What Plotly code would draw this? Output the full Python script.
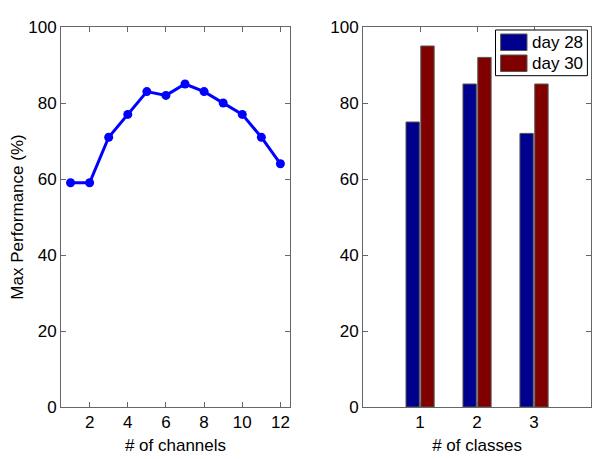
import plotly.graph_objects as go

# left panel: best performance vs number of channels
channels = [1, 2, 3, 4, 5, 6, 7, 8, 9, 10, 11, 12]
max_perf = [59, 59, 71, 77, 83, 82, 85, 83, 80, 77, 71, 64]

# right panel: performance per number of classes
classes = [1, 2, 3]
day28 = [75, 85, 72]
day30 = [95, 92, 85]
series_names = ["day 28", "day 30"]
series_colors = ["#00008f", "#800000"]

font = dict(family="Liberation Sans, Arial, sans-serif", size=17, color="black")
axcol = "#666666"

fig = go.Figure()

fig.add_trace(go.Scatter(
    x=channels, y=max_perf, mode="lines+markers",
    line=dict(color="#0000ff", width=3),
    marker=dict(color="#0000ff", size=9, symbol="circle"),
    showlegend=False, xaxis="x", yaxis="y"))

for vals, name, col in zip([day28, day30], series_names, series_colors):
    fig.add_trace(go.Bar(
        x=classes, y=vals, name=name,
        marker=dict(color=col, line=dict(color="#555555", width=1)),
        showlegend=False, xaxis="x2", yaxis="y2"))

common = dict(showgrid=False, zeroline=False, showline=True, linecolor=axcol,
              linewidth=1, mirror="ticks", ticks="inside", ticklen=5,
              tickcolor=axcol, tickfont=font, automargin=False)

# page body adds 8px around the plot, so the figure is 8px smaller each way
fig.update_layout(
    width=592, height=451,
    margin=dict(l=53, r=9, t=19, b=52, autoexpand=False),
    plot_bgcolor="white", paper_bgcolor="white",
    font=font,
    barmode="group", bargap=0.48, bargroupgap=0.1,
    xaxis=dict(domain=[0, 0.432], range=[0.5, 12.5],
               tickvals=[2, 4, 6, 8, 10, 12],
               title=dict(text="# of channels", font=font, standoff=7), **common),
    yaxis=dict(domain=[0, 1], range=[0, 100], tickvals=[0, 20, 40, 60, 80, 100],
               title=dict(text="Max Performance (%)", font=font, standoff=1), **common),
    xaxis2=dict(domain=[0.57, 1], range=[0, 4], tickvals=[1, 2, 3],
                anchor="y2",
                title=dict(text="# of classes", font=font, standoff=7), **common),
    yaxis2=dict(domain=[0, 1], range=[0, 100], tickvals=[0, 20, 40, 60, 80, 100],
                anchor="x2", **common),
    showlegend=False,
)

# legend box drawn like the MATLAB one (wide swatches)
shapes = [dict(type="rect", xref="paper", yref="paper",
               x0=(495.5 - 61) / 530, x1=(587.4 - 61) / 530,
               y0=1 - (75.7 - 27) / 380, y1=1 - (30 - 27) / 380,
               line=dict(color="black", width=1), fillcolor="white")]
annotations = []
for i, (name, col) in enumerate(zip(series_names, series_colors)):
    top = 34 + i * 21
    shapes.append(dict(type="rect", xref="paper", yref="paper",
                       x0=(500.6 - 61) / 530, x1=(527 - 61) / 530,
                       y0=1 - (top + 16.5 - 27) / 380, y1=1 - (top - 27) / 380,
                       line=dict(color="#555555", width=1), fillcolor=col))
    annotations.append(dict(xref="paper", yref="paper",
                            x=(530 - 61) / 530, y=1 - (top + 8.5 - 27) / 380,
                            xanchor="left", yanchor="middle", showarrow=False,
                            text=name, font=font))
fig.update_layout(shapes=shapes, annotations=annotations)

fig.write_html("out.html")
